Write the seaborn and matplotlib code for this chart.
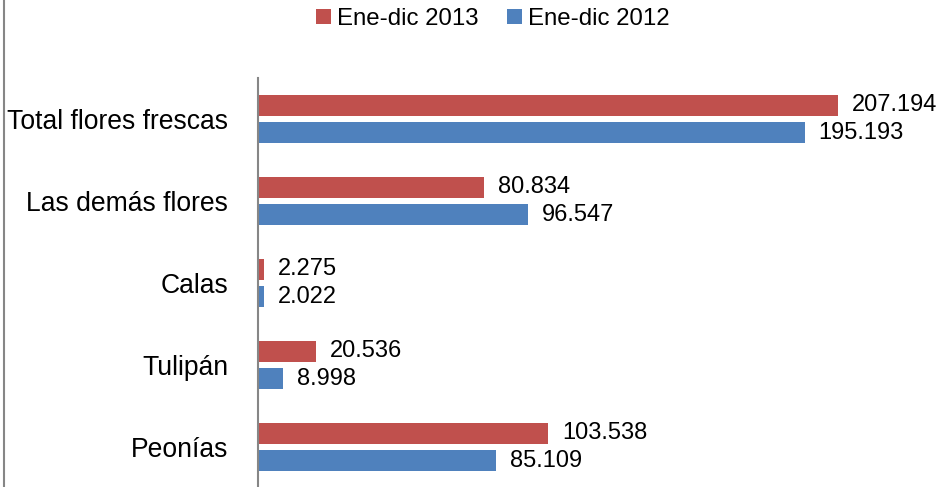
import matplotlib
matplotlib.use("Agg")
import matplotlib.pyplot as plt
import seaborn as sns
import pandas as pd
from matplotlib.patches import Patch
from matplotlib.lines import Line2D

categories = ["Total flores frescas", "Las demás flores", "Calas", "Tulipán", "Peonías"]
series_names = ["Ene-dic 2013", "Ene-dic 2012"]
values_2013 = [207.194, 80.834, 2.275, 20.536, 103.538]
values_2012 = [195.193, 96.547, 2.022, 8.998, 85.109]
labels_2013 = ["207.194", "80.834", "2.275", "20.536", "103.538"]
labels_2012 = ["195.193", "96.547", "2.022", "8.998", "85.109"]
colors = ["#C0504D", "#4F81BD"]

df = pd.DataFrame({
    "cat": categories * 2,
    "serie": [series_names[0]] * 5 + [series_names[1]] * 5,
    "val": values_2013 + values_2012,
})

sns.set_style("white")
plt.rcParams["font.family"] = ["Liberation Sans", "DejaVu Sans"]

W, H = 943, 487
fig = plt.figure(figsize=(W / 100, H / 100), dpi=100)
ax = fig.add_axes([258 / W, -1 / H, 1 - 258 / W + 0.01, (488 - 78) / H])

sns.barplot(data=df, y="cat", x="val", hue="serie", order=categories,
            hue_order=series_names, palette=colors, orient="h",
            width=0.68, gap=0.25, saturation=1, ax=ax, legend=False,
            edgecolor="none")

for cont, labs in zip(ax.containers, [labels_2013, labels_2012]):
    ax.bar_label(cont, labels=labs, padding=10, fontsize=17.0, color="#000000")

ax.set_xlim(0, (W - 258) / 2.8 + 0.01 * W / 2.8)
ax.set_ylim(4.5, -0.5)
ax.set_xlabel("")
ax.set_ylabel("")
ax.set_xticks([])
ax.tick_params(axis="y", length=0, pad=21.5, labelsize=19.1, labelcolor="#000000")
for s in ["top", "right", "bottom"]:
    ax.spines[s].set_visible(False)
ax.spines["left"].set_color("#868686")
ax.spines["left"].set_linewidth(1.5)

handles = [Patch(facecolor=c, edgecolor="none") for c in colors]
leg = fig.legend(handles, series_names, loc="center", bbox_to_anchor=(493 / W, 1 - 19 / H),
                 ncol=2, frameon=False, fontsize=17.3, handlelength=0.62, handleheight=0.62,
                 handletextpad=0.25, columnspacing=1.2)
for t in leg.get_texts():
    t.set_color("#000000")

fig.add_artist(Line2D([3.5 / W, 3.5 / W], [0, 1], transform=fig.transFigure,
                      color="#868686", linewidth=1.5))

fig.savefig("out.png", dpi=100)
